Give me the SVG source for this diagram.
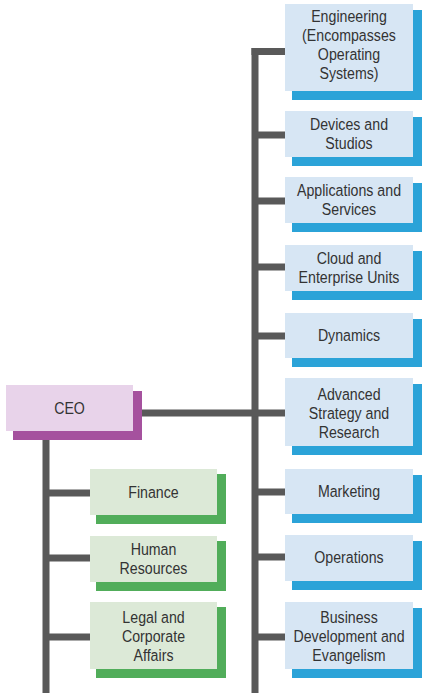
<svg xmlns="http://www.w3.org/2000/svg" width="432" height="700" viewBox="0 0 432 700">
<style>
.bg{fill:#ffffff}
.ln{stroke:#595959;stroke-width:7;fill:none}
.bb{fill:#d7e6f4}
.bs{fill:#2ba3d8}
.gb{fill:#dce9d7}
.gs{fill:#51ad5a}
.pb{fill:#e8d3ea}
.ps{fill:#a5519e}
text{font-family:"Liberation Sans",Arial,sans-serif;font-size:16.5px;fill:#333333;text-anchor:middle}
</style>
<rect class="bg" x="0" y="0" width="432" height="700"/>
<g id="connectors">
<path class="ln" d="M255 48V693"/>
<path class="ln" d="M46 431V693"/>
<path class="ln" d="M133 413H255"/>
<path class="ln" d="M251.5 51.5H285M255 135H285M255 201H285M255 267H285M255 336H285M255 413H285M255 492H285M255 557H285M255 637H285"/>
<path class="ln" d="M46 493H90M46 558H90M46 637H90"/>
</g>
<g id="ceo">
<rect class="ps" x="13" y="391" width="129" height="49"/>
<rect class="pb" x="6" y="385" width="127" height="46"/>
<g transform="translate(69.5 0) scale(0.86 1)"><text x="0" y="414">CEO</text></g>
</g>
<g id="engineering">
<rect class="bs" x="292" y="10" width="130" height="90"/>
<rect class="bb" x="285" y="4" width="128" height="87"/>
<g transform="translate(349 0) scale(0.86 1)">
<text x="0" y="22">Engineering</text>
<text x="0" y="41">(Encompasses</text>
<text x="0" y="60">Operating</text>
<text x="0" y="79">Systems)</text>
</g>
</g>
<g id="devices">
<rect class="bs" x="292" y="117" width="130" height="49"/>
<rect class="bb" x="285" y="111" width="128" height="46"/>
<g transform="translate(349 0) scale(0.86 1)">
<text x="0" y="130">Devices and</text>
<text x="0" y="149">Studios</text>
</g>
</g>
<g id="applications">
<rect class="bs" x="292" y="183" width="130" height="49"/>
<rect class="bb" x="285" y="177" width="128" height="46"/>
<g transform="translate(349 0) scale(0.86 1)">
<text x="0" y="196">Applications and</text>
<text x="0" y="215">Services</text>
</g>
</g>
<g id="cloud">
<rect class="bs" x="292" y="251" width="130" height="49"/>
<rect class="bb" x="285" y="245" width="128" height="46"/>
<g transform="translate(349 0) scale(0.86 1)">
<text x="0" y="264">Cloud and</text>
<text x="0" y="283">Enterprise Units</text>
</g>
</g>
<g id="dynamics">
<rect class="bs" x="292" y="319" width="130" height="48"/>
<rect class="bb" x="285" y="313" width="128" height="45"/>
<g transform="translate(349 0) scale(0.86 1)">
<text x="0" y="341">Dynamics</text>
</g>
</g>
<g id="advanced">
<rect class="bs" x="292" y="384" width="130" height="71"/>
<rect class="bb" x="285" y="378" width="128" height="68"/>
<g transform="translate(349 0) scale(0.86 1)">
<text x="0" y="400">Advanced</text>
<text x="0" y="419">Strategy and</text>
<text x="0" y="438">Research</text>
</g>
</g>
<g id="marketing">
<rect class="bs" x="292" y="475" width="130" height="48"/>
<rect class="bb" x="285" y="469" width="128" height="45"/>
<g transform="translate(349 0) scale(0.86 1)">
<text x="0" y="497">Marketing</text>
</g>
</g>
<g id="operations">
<rect class="bs" x="292" y="541" width="130" height="49"/>
<rect class="bb" x="285" y="535" width="128" height="46"/>
<g transform="translate(349 0) scale(0.86 1)">
<text x="0" y="563">Operations</text>
</g>
</g>
<g id="business">
<rect class="bs" x="292" y="608" width="130" height="70"/>
<rect class="bb" x="285" y="602" width="128" height="67"/>
<g transform="translate(349 0) scale(0.86 1)">
<text x="0" y="623">Business</text>
<text x="0" y="642">Development and</text>
<text x="0" y="661">Evangelism</text>
</g>
</g>
<g id="finance">
<rect class="gs" x="96" y="474" width="130" height="50"/>
<rect class="gb" x="90" y="469" width="127" height="46"/>
<g transform="translate(153.5 0) scale(0.86 1)">
<text x="0" y="498">Finance</text>
</g>
</g>
<g id="hr">
<rect class="gs" x="96" y="541" width="130" height="50"/>
<rect class="gb" x="90" y="536" width="127" height="46"/>
<g transform="translate(153.5 0) scale(0.86 1)">
<text x="0" y="555">Human</text>
<text x="0" y="574">Resources</text>
</g>
</g>
<g id="legal">
<rect class="gs" x="96" y="607" width="130" height="71"/>
<rect class="gb" x="90" y="602" width="127" height="67"/>
<g transform="translate(153.5 0) scale(0.86 1)">
<text x="0" y="623">Legal and</text>
<text x="0" y="642">Corporate</text>
<text x="0" y="661">Affairs</text>
</g>
</g>
</svg>
